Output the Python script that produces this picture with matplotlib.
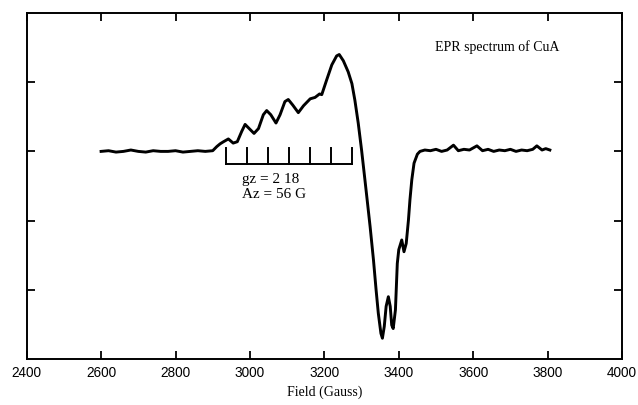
import matplotlib
matplotlib.use("Agg")
import matplotlib.pyplot as plt

# Spectrum trace (field in Gauss, signal in arbitrary units)
field = [2600, 2620, 2640, 2660, 2680, 2700, 2720, 2740, 2760, 2780, 2800, 2820, 2840, 2860, 2880, 2900,
         2911, 2920, 2929, 2942, 2955, 2966, 2978, 2987, 2998, 3011, 3023, 3036, 3045, 3056, 3070,
         3081, 3094, 3103, 3115, 3130, 3144, 3162, 3175, 3187, 3193, 3206, 3220, 3233, 3240, 3251,
         3264, 3274, 3282, 3291, 3300, 3309, 3315, 3323, 3332, 3339, 3345, 3352, 3356, 3361, 3366,
         3372, 3377, 3381, 3385, 3391, 3396, 3400, 3408, 3414, 3420, 3426, 3430, 3435, 3441, 3450,
         3457, 3470, 3485, 3500, 3515, 3530, 3547, 3560, 3575, 3590, 3610, 3625, 3640, 3655, 3670,
         3685, 3700, 3715, 3730, 3745, 3760, 3771, 3785, 3795, 3806]
signal = [3.00, 3.01, 2.99, 3.00, 3.02, 3.00, 2.99, 3.01, 3.00, 3.00, 3.01, 2.99, 3.00, 3.01, 3.00, 3.01,
          3.07, 3.11, 3.14, 3.18, 3.12, 3.14, 3.29, 3.39, 3.33, 3.26, 3.33, 3.53, 3.59, 3.53, 3.41,
          3.53, 3.72, 3.75, 3.67, 3.56, 3.66, 3.76, 3.78, 3.83, 3.82, 4.03, 4.25, 4.38, 4.40, 4.31,
          4.15, 3.98, 3.74, 3.41, 3.02, 2.59, 2.30, 1.91, 1.43, 1.00, 0.66, 0.37, 0.30, 0.47, 0.76,
          0.90, 0.76, 0.49, 0.44, 0.71, 1.38, 1.58, 1.72, 1.55, 1.67, 2.01, 2.30, 2.59, 2.83, 2.96,
          3.00, 3.02, 3.01, 3.03, 3.00, 3.02, 3.09, 3.01, 3.03, 3.02, 3.08, 3.01, 3.03, 3.00, 3.02,
          3.01, 3.03, 3.00, 3.02, 3.01, 3.03, 3.08, 3.02, 3.04, 3.02]

# Hyperfine stick diagram (gz = 2.18, Az = 56 G)
stick_positions = [2935, 2991, 3048, 3104, 3161, 3217, 3273]
stick_base = 2.82
stick_top = 3.05

x_ticks = [2400, 2600, 2800, 3000, 3200, 3400, 3600, 3800, 4000]
y_ticks = [1, 2, 3, 4]

title_text = "EPR spectrum of CuA"
annot_lines = ["gz = 2 18", "Az = 56 G"]
xlabel = "Field (Gauss)"

fig = plt.figure(figsize=(6.38, 4.05), dpi=100)
ax = fig.add_axes([0.0418, 0.1136, 0.9332, 0.8543])

ax.plot(field, signal, color="black", lw=2.1, solid_joinstyle="round")

ax.plot([stick_positions[0], stick_positions[-1]], [stick_base, stick_base], color="black", lw=1.4)
for p in stick_positions:
    ax.plot([p, p], [stick_base, stick_top], color="black", lw=1.4)

ax.set_xlim(2400, 4000)
ax.set_ylim(0, 5)
ax.set_xticks(x_ticks)
ax.set_yticks(y_ticks)
ax.set_yticklabels([])
ax.tick_params(axis="both", direction="in", length=6, width=1.3,
               top=True, right=True, labelsize=9.8, pad=5)
for lbl in ax.get_xticklabels():
    lbl.set_fontfamily("Liberation Sans")
for s in ax.spines.values():
    s.set_linewidth(1.4)

ax.set_xlabel(xlabel, fontfamily="Liberation Serif", fontsize=10, labelpad=4)

ax.text(3497, 4.5, title_text, fontfamily="Liberation Serif", fontsize=10,
        va="center", ha="left")
ax.text(2980, 2.59, annot_lines[0], fontfamily="Liberation Serif", fontsize=11,
        va="center", ha="left")
ax.text(2980, 2.37, annot_lines[1], fontfamily="Liberation Serif", fontsize=11,
        va="center", ha="left")

fig.savefig("out.png", dpi=100)
